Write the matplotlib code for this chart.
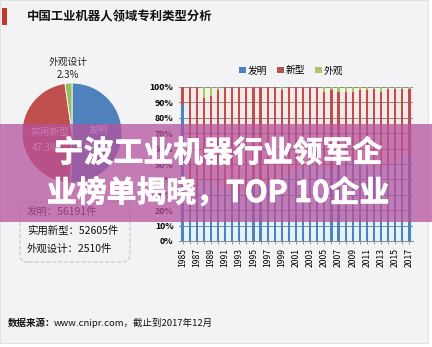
import numpy as np
import matplotlib
matplotlib.use("Agg")
import matplotlib.pyplot as plt
import matplotlib.patheffects as pe
from matplotlib.patches import Rectangle, FancyBboxPatch

plt.rcParams['font.family'] = ['Noto Sans CJK SC', 'DejaVu Sans']

# pie data
pie_names = ['发明', '实用新型', '外观设计']
pie_counts = [56191, 52605, 2510]
pie_colors = ['#4f81bd', '#c0504d', '#9bbb59']

# stacked share by year (percent)
years = list(range(1985, 2018))
blue = [88, 30, 35, 40, 38, 36, 34, 33, 32, 33, 35, 37, 38, 40, 42, 44, 46,
        48, 50, 50, 48, 47, 48, 50, 52, 52, 50, 49, 48, 50, 52, 55, 56]
green = [0, 0, 0, 7, 6, 2, 0, 0, 0, 0, 0, 0, 0, 0, 2, 0, 0,
         0, 0, 0, 3, 2, 3, 3, 3, 2, 2, 1, 3, 1, 1, 1, 1]
red = [100 - b - g for b, g in zip(blue, green)]
legend_names = ['发明', '新型', '外观']

W, H = 432, 347
fig = plt.figure(figsize=(W / 100, H / 100), dpi=100)
fig.patch.set_facecolor('white')

def fx(x):
    return x / W

def fy(y):
    return 1 - y / H

# panel background
fig.patches.append(Rectangle((0, fy(343)), fx(428), 343 / H, transform=fig.transFigure,
                             facecolor='#f3f2f5', edgecolor='#dddddd', lw=0.6, zorder=-5))
# title marker + title
fig.patches.append(Rectangle((fx(2), fy(25)), fx(5), 17 / H, transform=fig.transFigure,
                             facecolor='#c0392b', edgecolor='none', zorder=1))
fig.text(fx(27), fy(17), '中国工业机器人领域专利类型分析', fontsize=8.9, fontweight='bold',
         va='center', ha='left', color='#111111')

# pie
axp = fig.add_axes([fx(22), fy(183), fx(100), 100 / H])
axp.pie(pie_counts, colors=pie_colors, startangle=90, counterclock=False,
        wedgeprops=dict(edgecolor='white', linewidth=0.6))
axp.set_xlim(-1, 1)
axp.set_ylim(-1, 1)
axp.set_aspect('equal')
total = sum(pie_counts)
pcts = [c / total * 100 for c in pie_counts]

def pp(x, y):
    return ((x - 72) / 50, (133 - y) / 50)

axp.text(*pp(98, 130), pie_names[0], color='white', fontsize=7, ha='center', va='center')
axp.text(*pp(98, 148), f'{pcts[0]:.1f}%', color='white', fontsize=7, ha='center', va='center')
axp.text(*pp(50, 132), pie_names[1], color='white', fontsize=7, ha='center', va='center')
axp.text(*pp(46, 148), f'{pcts[1]:.1f}%', color='white', fontsize=7, ha='center', va='center')
axp.text(*pp(68, 62), pie_names[2], color='#222222', fontsize=7, ha='center', va='center',
         clip_on=False)
axp.text(*pp(68, 75), f'{pcts[2]:.1f}%', color='#222222', fontsize=7, ha='center', va='center',
         clip_on=False)

# count box
fig.patches.append(FancyBboxPatch((fx(20), fy(262)), fx(110), 60 / H, transform=fig.transFigure,
                                  boxstyle='round,pad=0,rounding_size=0.02', facecolor='none',
                                  edgecolor='#c8c8c8', lw=0.8, ls='--', zorder=2))
for i, (n, c) in enumerate(zip(pie_names, pie_counts)):
    fig.text(fx(27), fy(212 + i * 18.5), f'{n}：{c}件', fontsize=7.5, ha='left', va='center',
             color='#111111')

# bar chart
ax = fig.add_axes([fx(179), fy(241), fx(234), 154 / H])
ax.set_facecolor('none')
x = np.arange(len(years))
b = np.array(blue) / 100
r = np.array(red) / 100
g = np.array(green) / 100
ax.bar(x, b, width=1.0, color='#e2f3fb', zorder=1)
ax.bar(x, r, width=1.0, bottom=b, color='#fbe7e7', zorder=1)
ax.bar(x, g, width=1.0, bottom=b + r, color='#eef5df', zorder=1)
hb = ax.bar(x, b, width=0.3, color='#4f81bd', zorder=3)
hr = ax.bar(x, r, width=0.3, bottom=b, color='#b5524f', zorder=3)
hg = ax.bar(x, g, width=0.3, bottom=b + r, color='#a9c66c', zorder=3)
ax.set_xlim(-0.5, len(years) - 0.5)
ax.set_ylim(0, 1)
ax.set_yticks(np.arange(0, 1.01, 0.1))
ax.set_yticklabels([f'{int(v)}%' for v in np.arange(0, 101, 10)], fontsize=6.3,
                   fontweight='bold')
ax.set_xticks(x)
ax.set_xticklabels([str(yr) if (yr - 1985) % 2 == 0 else '' for yr in years],
                   rotation=90, fontsize=6.2)
ax.tick_params(axis='y', length=0, pad=4)
ax.tick_params(axis='x', length=2, width=0.6, color='#888888', pad=3)
ax.grid(axis='y', color='#8a8a8a', lw=0.7, zorder=2)
ax.set_axisbelow(False)
for s in ['top', 'right', 'left']:
    ax.spines[s].set_visible(False)
ax.spines['bottom'].set_color('#888888')
ax.spines['bottom'].set_linewidth(0.7)
ax.legend([hb, hr, hg], legend_names, loc='lower center', bbox_to_anchor=(0.48, 1.05),
          ncol=3, frameon=False, fontsize=7, handlelength=0.7, handleheight=0.7,
          handletextpad=0.2, columnspacing=1.0, borderaxespad=0)

# footer
fig.text(fx(8), fy(323), '数据来源：', fontsize=6.8, fontweight='bold', ha='left',
         va='center', color='#111111')
fig.text(fx(54), fy(323), 'www.cnipr.com，截止到2017年12月', fontsize=6.8, ha='left',
         va='center', color='#111111')

# overlay banner
fig.patches.append(Rectangle((0, fy(222)), 1, 98 / H, transform=fig.transFigure,
                             facecolor=(0.71, 0.32, 0.61), alpha=0.75, edgecolor='none',
                             zorder=10))
thick = [pe.withStroke(linewidth=0.5, foreground='white')]
fig.text(0.505, fy(153), '宁波工业机器行业领军企', fontsize=21.5, fontweight='heavy',
         color='white', ha='center', va='center', zorder=11, path_effects=thick)
fig.text(0.505, fy(193), '业榜单揭晓，TOP 10企业', fontsize=21.5, fontweight='heavy',
         color='white', ha='center', va='center', zorder=11, path_effects=thick)

fig.savefig('out.png', dpi=100, facecolor=fig.get_facecolor())
